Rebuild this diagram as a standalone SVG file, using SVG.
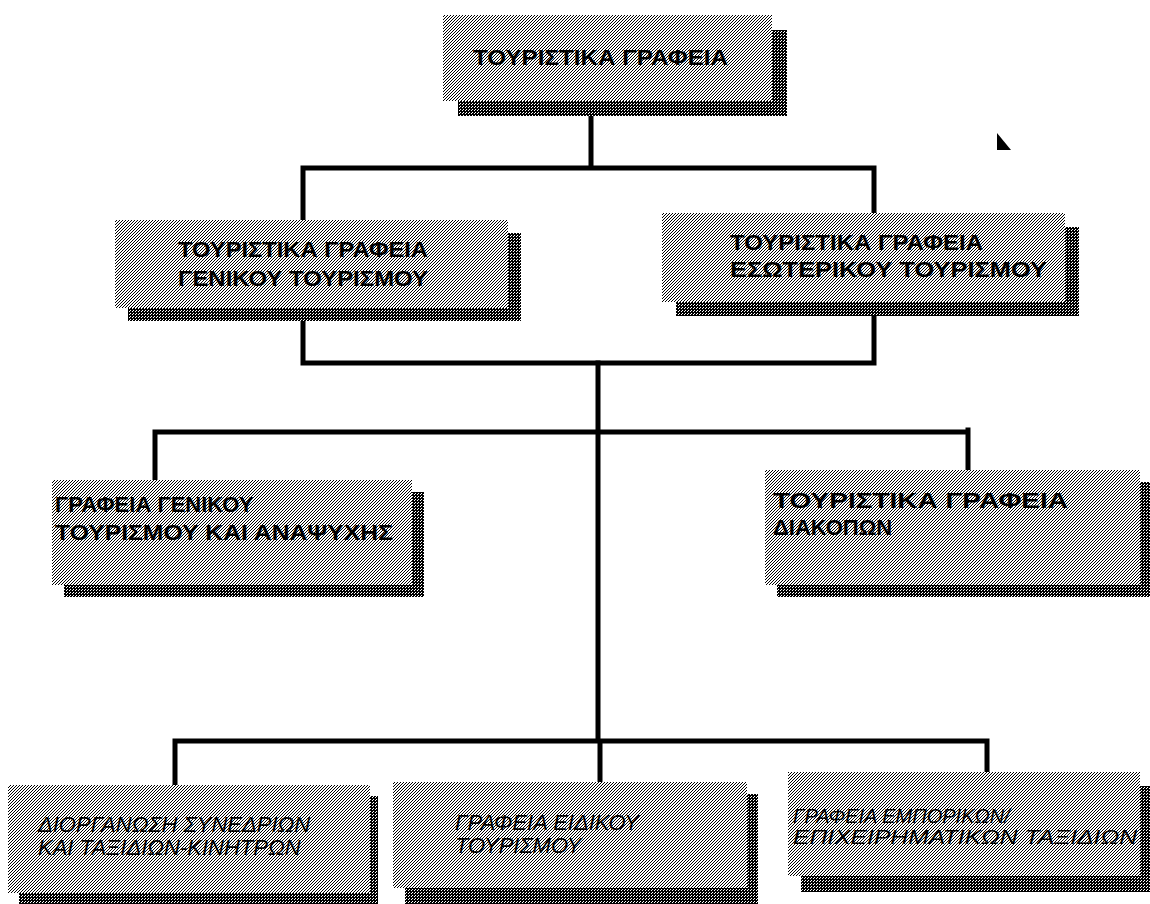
<svg xmlns="http://www.w3.org/2000/svg" width="1150" height="904" viewBox="0 0 1150 904">
  <defs>
    <pattern id="face" width="3" height="3" patternUnits="userSpaceOnUse">
      <rect width="3" height="3" fill="#ffffff"/>
      <rect x="0" y="0" width="1" height="1" fill="#000"/>
      <rect x="2" y="1" width="1" height="1" fill="#000"/>
      <rect x="1" y="2" width="1" height="1" fill="#000"/>
    </pattern>
    <pattern id="shade" width="3" height="3" patternUnits="userSpaceOnUse">
      <rect width="3" height="3" fill="#000"/>
      <rect x="1" y="1" width="1" height="1" fill="#fff"/>
      <rect x="0" y="2" width="1" height="1" fill="#fff"/>
    </pattern>
  </defs>
  <style>
    .face { fill: url(#face); }
    .shadow { fill: url(#shade); }
    .lbl { font-family: "Liberation Sans", Arial, sans-serif; font-weight: bold; font-size: 22px; fill: #000; }
    .ital { font-family: "Liberation Sans", Arial, sans-serif; font-style: italic; font-size: 22px; fill: #000; }
    .conn { stroke: #000; stroke-width: 5; fill: none; stroke-linecap: square; }
  </style>
  <rect width="1150" height="904" fill="#ffffff"/>

  <g id="connectors">
    <path class="conn" d="M591,116 V168 M303,168 H874 M303,168 V220 M874,168 V213"/>
    <path class="conn" d="M303,321 V363 M874,316 V363 M303,363 H874"/>
    <path class="conn" d="M598,363 V740"/>
    <path class="conn" stroke-width="4" d="M155,432 H968 M155,432 V480 M968,430 V470"/>
    <path class="conn" stroke-width="4" d="M175,741 H987 M175,741 V785 M600,741 V782 M987,741 V772"/>
  </g>

  <g id="n-top">
    <rect class="shadow" x="458" y="30" width="329" height="86"/>
    <rect class="face" x="443" y="15" width="329" height="86"/>
    <text class="lbl" x="473" y="65" textLength="255" lengthAdjust="spacingAndGlyphs">ΤΟΥΡΙΣΤΙΚΑ ΓΡΑΦΕΙΑ</text>
  </g>

  <g id="n-general">
    <rect class="shadow" x="128" y="233" width="393" height="88"/>
    <rect class="face" x="115" y="220" width="393" height="88"/>
    <text class="lbl" x="178" y="257" textLength="250" lengthAdjust="spacingAndGlyphs">ΤΟΥΡΙΣΤΙΚΑ ΓΡΑΦΕΙΑ</text>
    <text class="lbl" x="178" y="286" textLength="250" lengthAdjust="spacingAndGlyphs">ΓΕΝΙΚΟΥ ΤΟΥΡΙΣΜΟΥ</text>
  </g>

  <g id="n-domestic">
    <rect class="shadow" x="676" y="227" width="403" height="89"/>
    <rect class="face" x="662" y="213" width="403" height="89"/>
    <text class="lbl" x="730" y="250" textLength="253" lengthAdjust="spacingAndGlyphs">ΤΟΥΡΙΣΤΙΚΑ ΓΡΑΦΕΙΑ</text>
    <text class="lbl" x="730" y="277" textLength="317" lengthAdjust="spacingAndGlyphs">ΕΣΩΤΕΡΙΚΟΥ ΤΟΥΡΙΣΜΟΥ</text>
  </g>

  <g id="n-leisure">
    <rect class="shadow" x="64" y="492" width="360" height="105"/>
    <rect class="face" x="52" y="480" width="360" height="105"/>
    <text class="lbl" x="55" y="512">ΓΡΑΦΕΙΑ ΓΕΝΙΚΟΥ</text>
    <text class="lbl" x="55" y="540" textLength="338" lengthAdjust="spacingAndGlyphs">ΤΟΥΡΙΣΜΟΥ ΚΑΙ ΑΝΑΨΥΧΗΣ</text>
  </g>

  <g id="n-holidays">
    <rect class="shadow" x="777" y="482" width="373" height="115"/>
    <rect class="face" x="765" y="470" width="375" height="115"/>
    <text class="lbl" x="773" y="508" textLength="295" lengthAdjust="spacingAndGlyphs">ΤΟΥΡΙΣΤΙΚΑ ΓΡΑΦΕΙΑ</text>
    <text class="lbl" x="773" y="535">ΔΙΑΚΟΠΩΝ</text>
  </g>

  <g id="n-congress">
    <rect class="shadow" x="19" y="796" width="359" height="108"/>
    <rect class="face" x="8" y="785" width="362" height="108"/>
    <text class="ital" x="38" y="832">ΔΙΟΡΓΑΝΩΣΗ ΣΥΝΕΔΡΙΩΝ</text>
    <text class="ital" x="38" y="855">ΚΑΙ ΤΑΞΙΔΙΩΝ-ΚΙΝΗΤΡΩΝ</text>
  </g>

  <g id="n-special">
    <rect class="shadow" x="405" y="794" width="353" height="110"/>
    <rect class="face" x="393" y="782" width="354" height="106"/>
    <text class="ital" x="455" y="830">ΓΡΑΦΕΙΑ ΕΙΔΙΚΟΥ</text>
    <text class="ital" x="455" y="853">ΤΟΥΡΙΣΜΟΥ</text>
  </g>

  <g id="n-business">
    <rect class="shadow" x="801" y="786" width="349" height="106"/>
    <rect class="face" x="788" y="772" width="352" height="104"/>
    <text class="ital" x="793" y="823" style="font-size:20px">ΓΡΑΦΕΙΑ ΕΜΠΟΡΙΚΩΝ/</text>
    <text class="ital" x="793" y="844" style="font-size:20px" textLength="344" lengthAdjust="spacingAndGlyphs">ΕΠΙΧΕΙΡΗΜΑΤΙΚΩΝ ΤΑΞΙΔΙΩΝ</text>
  </g>

  <path d="M997,133 L997,150 L1011,150 Z" fill="#000"/>
</svg>
